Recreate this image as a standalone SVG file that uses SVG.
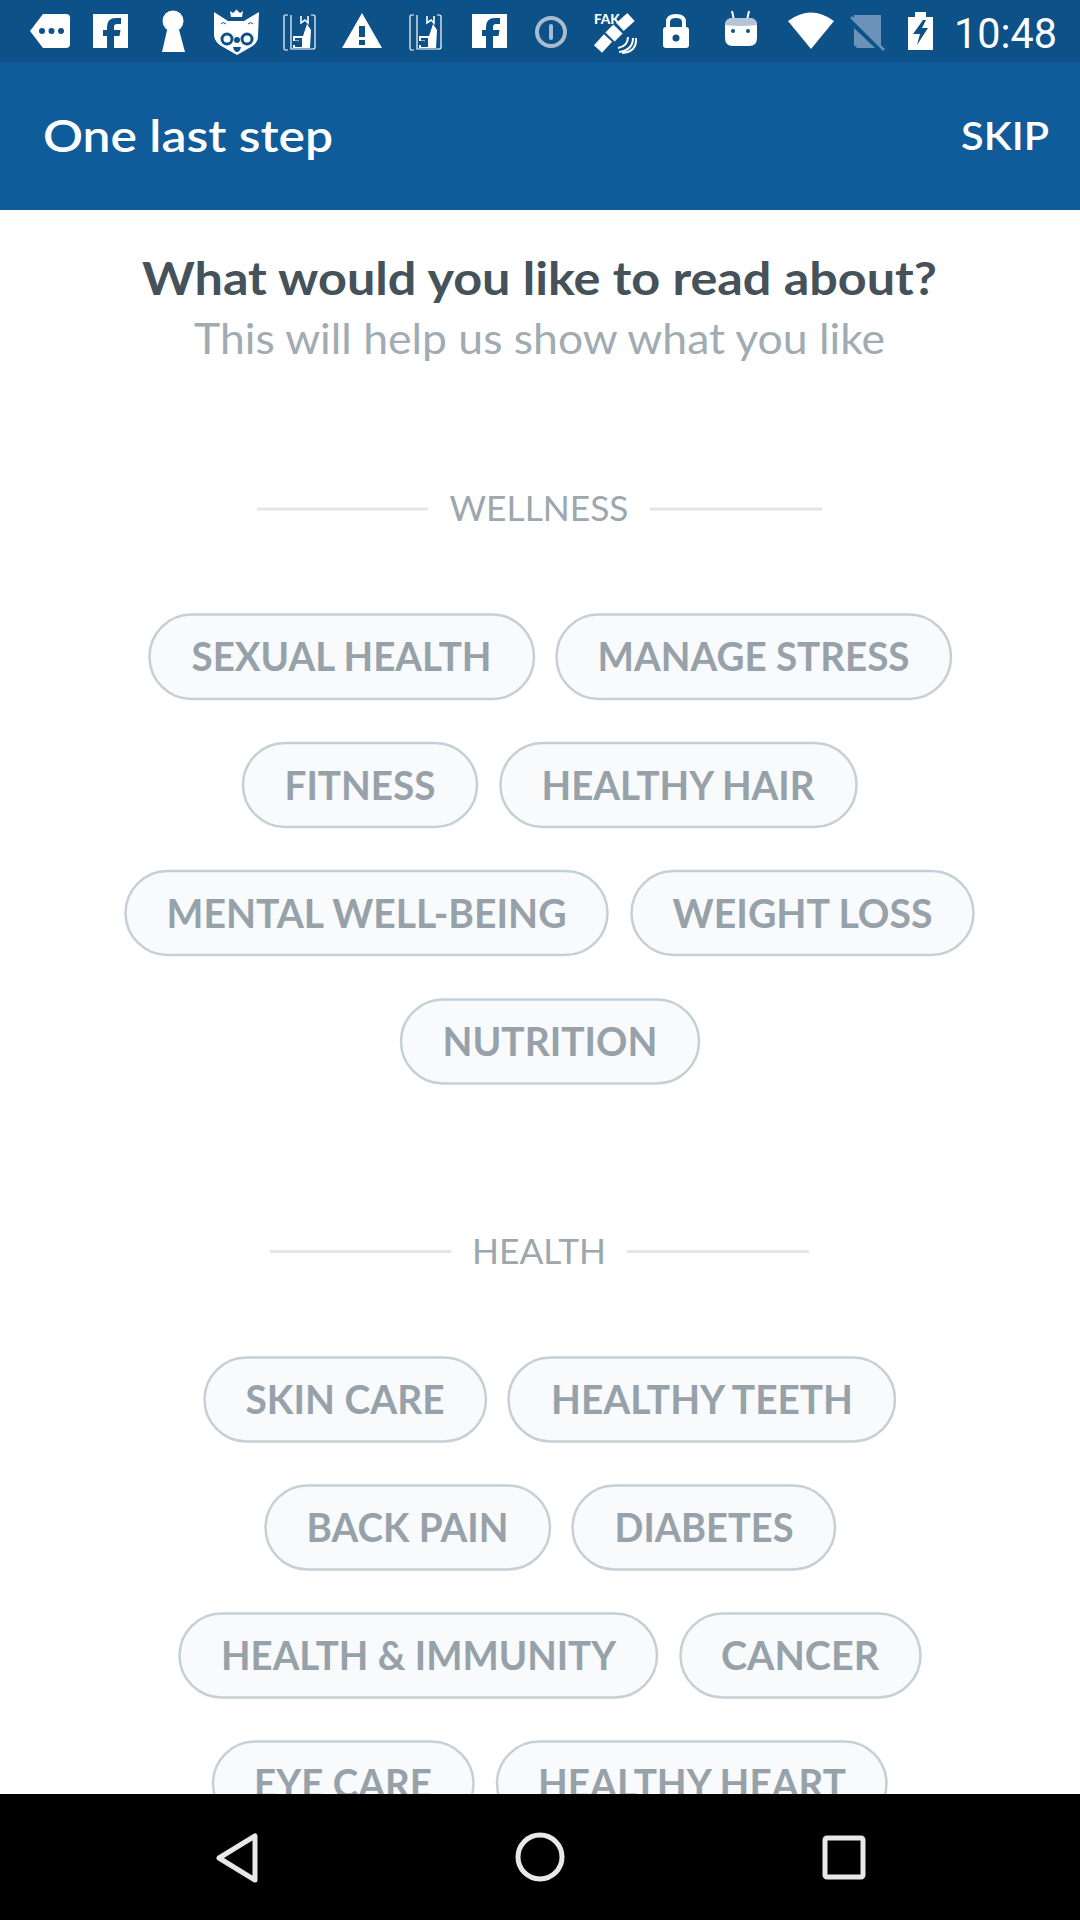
<svg xmlns="http://www.w3.org/2000/svg" width="1080" height="1920" viewBox="0 0 1080 1920">
<style>
text{font-family:"Lato","Open Sans","Liberation Sans",sans-serif}
.pill rect{fill:#f8fafb;stroke:#c5d0d6;stroke-width:2.5}
.pill text{font-size:40px;font-weight:700;fill:#96a1a9;text-anchor:middle}
.sec{font-size:35px;fill:#9ca7ae;text-anchor:middle}
.rule{stroke:#e2e7ea;stroke-width:3;stroke-linecap:round}
.w{fill:#fff}
.b{fill:#0d5189}
.ln{fill:none;stroke:#fff}
.nav{fill:none;stroke:#e8e8e8;stroke-width:5;stroke-linejoin:round}
</style>
<defs>
<g id="fb"><rect x="0" y="0" width="35" height="34" class="w"/><path class="b" d="M21 34V22H26.500L27.500 16H21V13Q21 10 24 10H28V4H23Q14 4 14 13V16H10V22H14V34Z"/></g>
<g id="book"><path class="ln" stroke-width="1.200" d="M5 1H2Q1 1 1 3V34Q1 36 2 36H5M8 1V35H30Q32 35 32 33V3Q32 1 30 1H28"/><path class="ln" stroke-width="1.600" d="M18 2V9L22 6L25 9V2"/><path class="w" d="M10 22H20L24 10L28 16L27 34H10V31H16Q18 29 15 27H10Z"/><path class="b" d="M12 24H19V33H12V30.500H16V29.500H13V27.500H16V26.500H12Z"/></g>
</defs>
<rect id="page" x="0" y="0" width="1080" height="1920" fill="#fff"/>
<rect id="appbar" x="0" y="62" width="1080" height="148" fill="#105b99"/>
<rect id="statusbar" x="0" y="0" width="1080" height="62" fill="#0d5189"/>
<g id="status-icons">
<g id="icon-tag"><path class="w" d="M30 31L43 14H66Q70 14 70 18V44Q70 48 66 48H43Z"/><circle class="b" cx="42" cy="31" r="3"/><circle class="b" cx="51.500" cy="31" r="3"/><circle class="b" cx="61" cy="31" r="3"/></g>
<use id="icon-fb1" href="#fb" x="93" y="14"/>
<g id="icon-keyhole"><circle class="w" cx="173" cy="21" r="10.500"/><path class="w" d="M168 26H178L185 52H162Z"/></g>
<g id="icon-fox"><path class="w" d="M214 12L228 21H244L259 12L258 36Q258 43 251 47L237 55L223 47Q215 43 214 36Z"/><path class="w" d="M230 11L233 13L236.500 9.500L240 13L243 11L242 17H231Z"/><circle class="b" cx="227" cy="39" r="6.500"/><circle class="w" cx="227" cy="39" r="3.500"/><circle class="b" cx="247" cy="39" r="6.500"/><circle class="w" cx="247" cy="39" r="3.500"/><circle class="b" cx="237" cy="40" r="3"/><path class="b" d="M233 47H241Q240 52 237 52Q234 52 233 47Z"/><path fill="none" stroke="#0d5189" stroke-width="1" d="M221 24Q223 21 226 24M248 24Q251 21 253 24"/></g>
<use id="icon-book1" href="#book" x="283" y="14"/>
<g id="icon-warn"><path class="w" d="M362 13L382 48H342Z"/><rect class="b" x="359" y="26" width="6" height="11"/><rect class="b" x="359" y="40" width="6" height="5"/></g>
<use id="icon-book2" href="#book" x="409" y="14"/>
<use id="icon-fb2" href="#fb" x="472" y="14"/>
<g id="icon-info"><circle cx="551" cy="32" r="14" fill="none" stroke="#a8bccd" stroke-width="4"/><rect x="549" y="24" width="4" height="16" rx="2" fill="#a8bccd"/></g>
<g id="icon-fake"><text x="594" y="24" font-size="13.500" font-weight="900" fill="#fff">FAK</text><path class="ln" stroke-width="11" d="M598 49L608 38M620 27L631 17"/><path class="ln" stroke-width="13" d="M610 37L618 29"/><path class="ln" stroke-width="2" d="M618 48Q628 46 628 37M619 52Q633 50 633 38M622 53Q637 52 636 38"/></g>
<g id="icon-lock"><rect class="w" x="663" y="27" width="26" height="21" rx="3"/><path class="ln" stroke-width="4" d="M668 28V22Q668 16 676 16Q684 16 684 22V28"/><circle class="b" cx="676" cy="38" r="3.500"/></g>
<g id="icon-android"><path class="ln" stroke-width="2" d="M732 11L734 20M749 11L747 20"/><path class="w" d="M725 26Q725 18 733 18H749Q757 18 757 26V38Q757 46 749 46H733Q725 46 725 38Z"/><path fill="#b3c5d6" d="M725 25Q725 18 733 18H749Q757 18 757 25Q741 27 725 25Z"/><circle class="b" cx="733" cy="31" r="2"/><circle class="b" cx="748" cy="31" r="2"/></g>
<path id="icon-wifi" class="w" d="M811 49L788 21Q811 4 834 21Z"/>
<g id="icon-nosim"><path fill="#6b92b8" d="M854 15H881V46L878 48H857L854 45Z"/><path stroke="#0d5189" stroke-width="5" d="M848 19L884 53"/><path stroke="#6b92b8" stroke-width="2.500" d="M851 17L884 50"/></g>
<g id="icon-battery"><rect class="w" x="908" y="17" width="25" height="33"/><rect class="w" x="915" y="12" width="11" height="6"/><path class="b" d="M923 20L913 34H920L917 45L928 28H922L926 20Z"/></g>
<text id="clock" x="954" y="47.500" font-size="42" textLength="103" lengthAdjust="spacingAndGlyphs" fill="#fff" style="font-family:Roboto,sans-serif">10:48</text>
</g>
<text id="title" x="43" y="152" font-size="45" font-weight="600" fill="#fff" textLength="290" lengthAdjust="spacingAndGlyphs">One last step</text>
<text id="skip" x="961" y="150" font-size="39" font-weight="600" fill="#fff" textLength="88" lengthAdjust="spacingAndGlyphs">SKIP</text>
<text id="heading" x="142" y="295" font-size="45" font-weight="700" fill="#46525a" textLength="795" lengthAdjust="spacingAndGlyphs">What would you like to read about?</text>
<text id="subheading" x="194" y="354" font-size="42" fill="#a0abb2" textLength="691" lengthAdjust="spacingAndGlyphs">This will help us show what you like</text>
<g id="section-wellness"><line class="rule" x1="258" y1="509" x2="427" y2="509"/><text class="sec" x="539" y="521" textLength="179" lengthAdjust="spacingAndGlyphs">WELLNESS</text><line class="rule" x1="651" y1="509" x2="821" y2="509"/></g>
<g id="section-health"><line class="rule" x1="271" y1="1251.500" x2="450" y2="1251.500"/><text class="sec" x="539" y="1264" textLength="134" lengthAdjust="spacingAndGlyphs">HEALTH</text><line class="rule" x1="628" y1="1251.500" x2="808" y2="1251.500"/></g>
<g id="pill-sexual-health" class="pill"><rect x="149.500" y="614.500" width="384.500" height="84.500" rx="42"/><text x="341.500" y="671" textLength="300" lengthAdjust="spacingAndGlyphs">SEXUAL HEALTH</text></g>
<g id="pill-manage-stress" class="pill"><rect x="556.500" y="614.500" width="394.500" height="84.500" rx="42"/><text x="753.500" y="671" textLength="312" lengthAdjust="spacingAndGlyphs">MANAGE STRESS</text></g>
<g id="pill-fitness" class="pill"><rect x="243" y="743" width="234" height="84" rx="42"/><text x="360" y="799.500" textLength="151" lengthAdjust="spacingAndGlyphs">FITNESS</text></g>
<g id="pill-healthy-hair" class="pill"><rect x="500.500" y="743" width="356" height="84" rx="42"/><text x="678" y="799.500" textLength="273" lengthAdjust="spacingAndGlyphs">HEALTHY HAIR</text></g>
<g id="pill-mental" class="pill"><rect x="125.500" y="871" width="482" height="84" rx="42"/><text x="366.500" y="927.500" textLength="400" lengthAdjust="spacingAndGlyphs">MENTAL WELL-BEING</text></g>
<g id="pill-weight-loss" class="pill"><rect x="631.500" y="871" width="342" height="84" rx="42"/><text x="802.500" y="927.500" textLength="260" lengthAdjust="spacingAndGlyphs">WEIGHT LOSS</text></g>
<g id="pill-nutrition" class="pill"><rect x="401" y="999.500" width="298" height="84" rx="42"/><text x="550" y="1056" textLength="215" lengthAdjust="spacingAndGlyphs">NUTRITION</text></g>
<g id="pill-skin-care" class="pill"><rect x="204.500" y="1357.500" width="281.500" height="84" rx="42"/><text x="345" y="1414" textLength="199" lengthAdjust="spacingAndGlyphs">SKIN CARE</text></g>
<g id="pill-healthy-teeth" class="pill"><rect x="508.500" y="1357.500" width="386.500" height="84" rx="42"/><text x="702" y="1414" textLength="302" lengthAdjust="spacingAndGlyphs">HEALTHY TEETH</text></g>
<g id="pill-back-pain" class="pill"><rect x="265.500" y="1485.500" width="284.500" height="84" rx="42"/><text x="407.500" y="1542" textLength="202" lengthAdjust="spacingAndGlyphs">BACK PAIN</text></g>
<g id="pill-diabetes" class="pill"><rect x="572.500" y="1485.500" width="262.500" height="84" rx="42"/><text x="704" y="1542" textLength="179" lengthAdjust="spacingAndGlyphs">DIABETES</text></g>
<g id="pill-immunity" class="pill"><rect x="179.500" y="1613.500" width="477.500" height="84" rx="42"/><text x="418.500" y="1670" textLength="395" lengthAdjust="spacingAndGlyphs">HEALTH &amp; IMMUNITY</text></g>
<g id="pill-cancer" class="pill"><rect x="680.500" y="1613.500" width="240" height="84" rx="42"/><text x="800" y="1670" textLength="158" lengthAdjust="spacingAndGlyphs">CANCER</text></g>
<g id="pill-eye-care" class="pill"><rect x="213" y="1741.500" width="260.500" height="84" rx="42"/><text x="343" y="1798" textLength="178" lengthAdjust="spacingAndGlyphs">EYE CARE</text></g>
<g id="pill-healthy-heart" class="pill"><rect x="497" y="1741.500" width="389.500" height="84" rx="42"/><text x="692" y="1798" textLength="308" lengthAdjust="spacingAndGlyphs">HEALTHY HEART</text></g>
<rect id="navbar" x="0" y="1794" width="1080" height="126" fill="#000"/>
<g id="nav-icons"><path id="nav-back" class="nav" d="M255 1836V1880L219 1858Z"/><circle id="nav-home" class="nav" cx="540" cy="1857" r="22"/><rect id="nav-recent" class="nav" x="825" y="1838" width="38" height="39" rx="2"/></g>
</svg>
